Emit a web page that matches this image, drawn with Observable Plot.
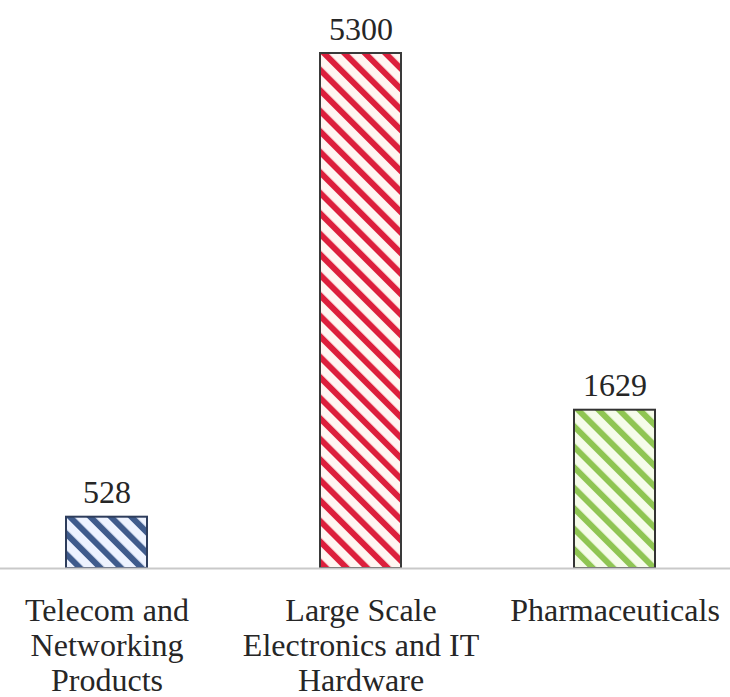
<!DOCTYPE html>
<html>
<head>
<meta charset="utf-8">
<script src="https://cdn.jsdelivr.net/npm/d3@7"></script>
<script src="https://cdn.jsdelivr.net/npm/@observablehq/plot@0.6"></script>
<style>
  html, body { margin: 0; padding: 0; background: #fff; }
  #chart { width: 730px; height: 697px; }
  #chart svg, #chart svg text, #chart svg tspan { font-family: "Liberation Serif" !important; }
</style>
</head>
<body>
<div id="chart"></div>
<script>
const categories = [
  "Telecom and\nNetworking\nProducts",
  "Large Scale\nElectronics and IT\nHardware",
  "Pharmaceuticals"
];
const values = [528, 5300, 1629];
const stripeColors = ["#3f5b8c", "#dc1f3c", "#8fc553"];
const stripeBackgrounds = ["#eef3ff", "#fff6f2", "#f6fcea"];
const borderColors = ["#2e3d5c", "#3a3a3a", "#333333"];

const data = categories.map((c, i) => ({category: c, value: values[i], i}));
const serif = "Liberation Serif";

const plot = Plot.plot({
  width: 730,
  height: 697,
  marginTop: 53,
  marginBottom: 129,
  marginLeft: 0,
  marginRight: 0,
  style: {fontFamily: serif, fontSize: "32px"},
  x: {domain: categories, range: [0, 720], paddingInner: 0.682, paddingOuter: 0.253, axis: null},
  y: {domain: [0, 5300], axis: null},
  color: {type: "identity"},
  marks: [
    Plot.barY(data, {
      x: "category",
      y: "value",
      fill: d => `url(#hatch${d.i})`,
      stroke: d => borderColors[d.i],
      strokeWidth: 2
    }),
    Plot.text(data, {
      x: "category",
      y: "value",
      text: d => String(d.value),
      lineAnchor: "bottom",
      dy: -14,
      fontSize: 32,
      fontFamily: serif,
      fill: "#262626"
    }),
    Plot.ruleY([0], {stroke: "#c9c9c9", strokeWidth: 2}),
    Plot.text(data, {
      x: "category",
      text: "category",
      frameAnchor: "bottom",
      lineAnchor: "top",
      dy: 27,
      lineHeight: 1.1,
      fontSize: 32,
      fontFamily: serif,
      fill: "#262626"
    })
  ]
});

// force serif font on every text element
plot.setAttribute("font-family", serif);
plot.querySelectorAll("g, text, tspan").forEach(el => {
  if (el.tagName === "g" && !el.hasAttribute("font-family")) return;
  el.setAttribute("font-family", serif);
  el.style.fontFamily = serif;
});

// hatch pattern definitions
const ns = "http://www.w3.org/2000/svg";
const defs = document.createElementNS(ns, "defs");
stripeColors.forEach((col, i) => {
  const p = document.createElementNS(ns, "pattern");
  p.setAttribute("id", `hatch${i}`);
  p.setAttribute("patternUnits", "userSpaceOnUse");
  p.setAttribute("width", 14.5);
  p.setAttribute("height", 14.5);
  p.setAttribute("patternTransform", "rotate(-45)");
  const bg = document.createElementNS(ns, "rect");
  bg.setAttribute("width", 14.5);
  bg.setAttribute("height", 14.5);
  bg.setAttribute("fill", stripeBackgrounds[i]);
  p.appendChild(bg);
  const ln = document.createElementNS(ns, "rect");
  ln.setAttribute("width", 6);
  ln.setAttribute("height", 14.5);
  ln.setAttribute("fill", col);
  p.appendChild(ln);
  defs.appendChild(p);
});
plot.appendChild(defs);

document.getElementById("chart").appendChild(plot);
</script>
</body>
</html>
